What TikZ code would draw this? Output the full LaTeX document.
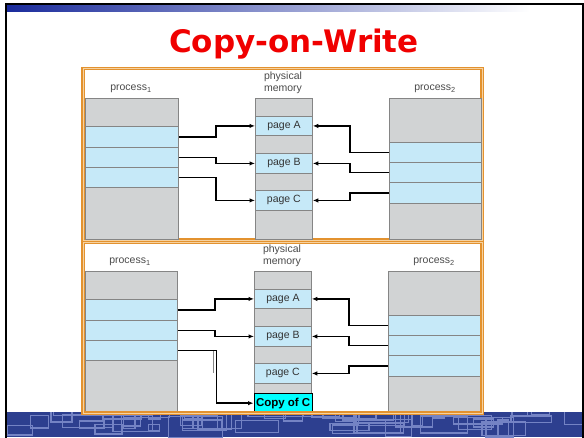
\documentclass[tikz,border=0pt]{standalone}
\usepackage{fontspec}
\setmainfont{Liberation Sans}
\newfontfamily\titlefont{DejaVu Sans}
\usetikzlibrary{arrows.meta}
\definecolor{grayfill}{HTML}{D1D3D4}
\definecolor{bluefill}{HTML}{C6E9F8}
\definecolor{rowline}{HTML}{858585}
\definecolor{frameor}{HTML}{E3922F}
\definecolor{frameorl}{HTML}{F6D2A0}
\definecolor{bandblue}{HTML}{2D3F8F}
\definecolor{bandline}{HTML}{7483C4}
\definecolor{titlered}{HTML}{F00000}
\definecolor{barblue}{HTML}{1A2B9C}
\definecolor{labelgray}{HTML}{4A4A4A}
\definecolor{pagetext}{HTML}{333333}
\definecolor{copycyan}{HTML}{00FFFF}
\newcommand\cellnode[7]{\node[cellbox, fill=#2, minimum width=#5, minimum height=#6] (#1) at (#3,#4) {#7};}
\begin{document}
\begin{tikzpicture}[x=1pt,y=-1pt,
  cellbox/.style={draw=rowline, line width=0.8, inner sep=0, anchor=north west, text=pagetext, font=\fontsize{10.5}{12}\selectfont},
  lbl/.style={text=labelgray, font=\fontsize{10.5}{12}\selectfont, align=center, inner sep=0},
  arr/.style={draw=black, line width=1.4, -{Latex[length=5.5pt,width=4.5pt]}},
  panel/.style={draw=frameor, line width=1.2, double=frameorl, double distance=0.9}]
\useasboundingbox (0,0) rectangle (584,437);
% top bar
\shade[left color=barblue, right color=white] (7,5) rectangle (530,11);
% bottom band
\begin{scope}
\clip (7,412) rectangle (582,437);
\fill[bandblue] (7,412) rectangle (582,437);
\pgfmathsetseed{11}
\foreach \i in {1,...,55}{
  \pgfmathsetmacro\xa{7+575*rnd}
  \pgfmathsetmacro\ya{414+24*rnd}
  \pgfmathsetmacro\w{10+45*rnd}
  \pgfmathsetmacro\h{6+16*rnd}
  \draw[bandline, line width=1.3] (\xa,\ya) rectangle ++(\w,-\h);
}
\end{scope}
\draw[line width=2] (6,438) -- (6,3.5) -- (582.5,3.5) -- (582.5,438);
% title
\node[anchor=base, text=titlered, font=\titlefont\bfseries\fontsize{31}{31}\selectfont, inner sep=0] (title) at (294,52) {Copy-on-Write};

% ================= top panel =================
\draw[panel] (83,68.5) rectangle (482,240);
\node[lbl] (t1lbl) at (131,89) {process\textsubscript{1}};
\node[lbl] (tmlbl) at (283,83) {physical\\memory};
\node[lbl] (t2lbl) at (435,89) {process\textsubscript{2}};
% process 1
\cellnode{tp1g1}{grayfill}{85}{98}{93}{28}{}
\cellnode{tp1r1}{bluefill}{85}{126}{93}{21}{}
\cellnode{tp1r2}{bluefill}{85}{147}{93}{20}{}
\cellnode{tp1r3}{bluefill}{85}{167}{93}{20}{}
\cellnode{tp1g2}{grayfill}{85}{187}{93}{52}{}
% memory
\cellnode{tmg1}{grayfill}{255}{98}{57}{18}{}
\cellnode{tpA}{bluefill}{255}{116}{57}{19}{page A}
\cellnode{tmg2}{grayfill}{255}{135}{57}{18}{}
\cellnode{tpB}{bluefill}{255}{153}{57}{20}{page B}
\cellnode{tmg3}{grayfill}{255}{173}{57}{17}{}
\cellnode{tpC}{bluefill}{255}{190}{57}{20}{page C}
\cellnode{tmg4}{grayfill}{255}{210}{57}{29}{}
% process 2
\cellnode{tp2g1}{grayfill}{389}{98}{92}{44}{}
\cellnode{tp2r1}{bluefill}{389}{142}{92}{20}{}
\cellnode{tp2r2}{bluefill}{389}{162}{92}{20}{}
\cellnode{tp2r3}{bluefill}{389}{182}{92}{21}{}
\cellnode{tp2g2}{grayfill}{389}{203}{92}{36}{}
\coordinate (tmL) at (216,0);
\coordinate (tmR) at (350,0);
\draw[arr] (tp1r1.east) -- (tp1r1.east -| tmL) |- (tpA.west);
\draw[arr] (tp1r2.east) -- (tp1r2.east -| tmL) |- (tpB.west);
\draw[arr] (tp1r3.east) -- (tp1r3.east -| tmL) |- (tpC.west);
\draw[arr] (tp2r1.west) -- (tp2r1.west -| tmR) |- (tpA.east);
\draw[arr] (tp2r2.west) -- (tp2r2.west -| tmR) |- (tpB.east);
\draw[arr] (tp2r3.west) -- (tp2r3.west -| tmR) |- (tpC.east);

% ================= bottom panel =================
\node[lbl] (b1lbl) at (130,262) {process\textsubscript{1}};
\node[lbl] (bmlbl) at (282,256) {physical\\memory};
\node[lbl] (b2lbl) at (434,262) {process\textsubscript{2}};
\cellnode{bp1g1}{grayfill}{85}{271}{92}{28}{}
\cellnode{bp1r1}{bluefill}{85}{299}{92}{21}{}
\cellnode{bp1r2}{bluefill}{85}{320}{92}{20}{}
\cellnode{bp1r3}{bluefill}{85}{340}{92}{20}{}
\cellnode{bp1g2}{grayfill}{85}{360}{92}{52}{}
\cellnode{bmg1}{grayfill}{254}{271}{57}{18}{}
\cellnode{bpA}{bluefill}{254}{289}{57}{19}{page A}
\cellnode{bmg2}{grayfill}{254}{308}{57}{18}{}
\cellnode{bpB}{bluefill}{254}{326}{57}{20}{page B}
\cellnode{bmg3}{grayfill}{254}{346}{57}{17}{}
\cellnode{bpC}{bluefill}{254}{363}{57}{20}{page C}
\cellnode{bmg4}{grayfill}{254}{383}{57}{10}{}
\node[draw=black, line width=1.3, fill=copycyan, inner sep=0, anchor=north west, minimum width=58, minimum height=19, font=\bfseries\fontsize{11.5}{12}\selectfont] (bcopy) at (253.5,393) {Copy of C};
\cellnode{bp2g1}{grayfill}{388}{271}{93}{44}{}
\cellnode{bp2r1}{bluefill}{388}{315}{93}{20}{}
\cellnode{bp2r2}{bluefill}{388}{335}{93}{20}{}
\cellnode{bp2r3}{bluefill}{388}{355}{93}{21}{}
\cellnode{bp2g2}{grayfill}{388}{376}{93}{36}{}
\draw[panel] (83,242.5) rectangle (482,413);
\coordinate (bmL) at (215,0);
\coordinate (bmR) at (349,0);
\coordinate (bmC) at (216.5,0);
\draw[arr] (bp1r1.east) -- (bp1r1.east -| bmL) |- (bpA.west);
\draw[arr] (bp1r2.east) -- (bp1r2.east -| bmL) |- (bpB.west);
\draw[rowline, line width=1] (bp1r3.east -| bmL) ++(-1.8,0) -- ++(0,23);
\draw[arr, line width=1.8] (bp1r3.east) -- (bp1r3.east -| bmC) |- (bcopy.west);
\draw[arr] (bp2r1.west) -- (bp2r1.west -| bmR) |- (bpA.east);
\draw[arr] (bp2r2.west) -- (bp2r2.west -| bmR) |- (bpB.east);
\draw[arr] (bp2r3.west) -- (bp2r3.west -| bmR) |- (bpC.east);
\end{tikzpicture}
\end{document}
